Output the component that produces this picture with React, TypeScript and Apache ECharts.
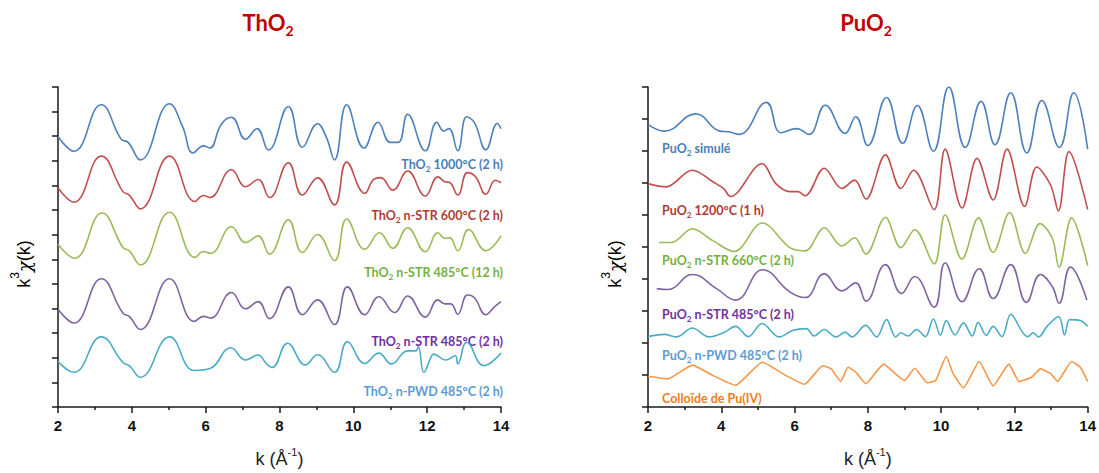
import React, { useEffect, useRef } from "react";
import * as echarts from "echarts";

// ---------- ThO2 panel ----------
const kTh1000 = [2.00, 2.43, 3.17, 3.71, 3.90, 4.23, 5.02, 5.37, 5.66, 5.94, 6.11, 6.42, 6.70, 7.08, 7.39, 7.70, 8.24, 8.62, 9.03, 9.27, 9.49, 9.82, 10.29, 10.67, 11.00, 11.22, 11.47, 11.95, 12.26, 12.45, 12.59, 12.83, 13.07, 13.28, 13.59, 13.90, 14.00];
const vTh1000 = [10.99, 10.39, 12.28, 10.88, 10.75, 10.04, 12.32, 11.41, 10.32, 10.61, 10.52, 11.48, 11.77, 10.88, 11.31, 10.44, 12.21, 10.55, 11.51, 10.95, 10.04, 12.28, 10.52, 11.57, 10.75, 10.75, 11.89, 10.41, 11.57, 11.21, 11.31, 10.41, 11.79, 11.55, 10.45, 11.52, 11.31];

const kTh600 = [2.00, 2.43, 3.17, 3.76, 3.93, 4.23, 5.02, 5.71, 5.94, 6.11, 6.70, 7.08, 7.42, 7.73, 8.24, 8.62, 9.03, 9.49, 9.82, 10.31, 10.55, 10.74, 11.07, 11.47, 11.95, 12.29, 12.48, 12.61, 12.83, 13.09, 13.31, 13.59, 13.85, 14.00];
const vTh600 = [8.91, 8.32, 10.19, 8.75, 8.61, 8.05, 10.19, 8.35, 8.59, 8.51, 9.64, 8.95, 9.24, 8.51, 9.92, 8.61, 9.31, 8.21, 9.95, 8.68, 9.25, 9.32, 8.81, 9.59, 8.57, 9.35, 9.15, 9.12, 8.61, 9.52, 9.35, 8.64, 9.21, 9.11];

const kTh485_12 = [2.00, 2.45, 3.19, 3.76, 3.93, 4.23, 5.02, 5.71, 5.94, 6.13, 6.70, 7.08, 7.42, 7.73, 8.24, 8.62, 9.03, 9.49, 9.82, 10.31, 10.71, 11.07, 11.47, 11.95, 12.29, 12.48, 12.61, 12.83, 13.12, 13.59, 14.00];
const vTh485_12 = [6.61, 6.04, 7.88, 6.48, 6.35, 5.77, 7.91, 6.08, 6.32, 6.24, 7.32, 6.68, 6.95, 6.21, 7.61, 6.28, 7.01, 5.95, 7.64, 6.41, 7.08, 6.45, 7.28, 6.31, 7.08, 6.85, 6.88, 6.35, 7.21, 6.35, 6.95];

const kTh485_2 = [2.00, 2.43, 3.17, 3.76, 3.93, 4.23, 5.02, 5.69, 5.94, 6.13, 6.70, 7.08, 7.42, 7.73, 8.24, 8.62, 9.03, 9.49, 9.84, 10.31, 10.69, 11.12, 11.47, 11.95, 12.29, 12.48, 12.64, 12.83, 13.09, 13.28, 13.59, 13.83, 14.00];
const vTh485_2 = [3.97, 3.41, 5.21, 3.81, 3.68, 3.15, 5.21, 3.48, 3.68, 3.61, 4.65, 3.99, 4.28, 3.59, 4.88, 3.75, 4.35, 3.35, 4.88, 3.75, 4.48, 3.84, 4.51, 3.65, 4.35, 4.19, 4.19, 3.77, 4.55, 4.44, 3.75, 4.08, 4.28];

const kThPwd = [2.00, 2.43, 3.17, 3.76, 3.93, 4.23, 5.02, 5.69, 6.13, 6.68, 7.08, 7.42, 7.65, 7.80, 8.22, 8.70, 9.03, 9.49, 9.84, 10.31, 10.69, 11.03, 11.47, 11.69, 11.76, 11.91, 12.12, 12.17, 12.50, 12.76, 12.83, 13.07, 13.54, 14.00];
const vThPwd = [1.85, 1.41, 2.85, 1.81, 1.68, 1.21, 2.85, 1.48, 1.57, 2.41, 1.91, 2.11, 1.75, 1.61, 2.59, 1.71, 2.12, 1.41, 2.65, 1.77, 2.19, 1.75, 2.28, 2.28, 2.45, 1.41, 2.08, 2.15, 1.91, 2.08, 1.75, 2.63, 1.68, 2.19];

// ---------- PuO2 panel ----------
const kPuSim = [2.00, 2.45, 3.30, 3.97, 4.20, 4.49, 5.23, 5.63, 6.06, 6.39, 6.84, 7.38, 7.67, 8.00, 8.51, 8.95, 9.35, 9.79, 10.21, 10.66, 11.09, 11.47, 11.90, 12.34, 12.75, 13.23, 13.62, 14.00];
const vPuSim = [8.83, 8.62, 9.16, 8.62, 8.60, 8.52, 9.52, 8.57, 8.70, 8.52, 9.43, 8.55, 9.07, 8.17, 9.67, 8.24, 9.42, 7.99, 10.0, 8.11, 9.55, 8.20, 9.82, 7.94, 9.58, 8.11, 9.82, 8.06];

const kPu1200 = [2.00, 2.49, 3.21, 3.78, 4.06, 4.25, 5.11, 5.49, 5.87, 6.10, 6.29, 6.81, 7.29, 7.64, 7.95, 8.48, 8.90, 9.25, 9.81, 10.11, 10.57, 10.98, 11.42, 11.80, 12.28, 12.61, 12.99, 13.20, 13.49, 14.00];
const vPu1200 = [6.98, 6.88, 7.40, 7.03, 6.83, 6.58, 7.60, 6.98, 6.73, 6.73, 6.60, 7.46, 6.83, 7.09, 6.50, 7.88, 6.83, 7.40, 6.17, 8.06, 6.22, 7.77, 6.47, 8.06, 6.27, 7.50, 6.93, 6.13, 7.98, 6.17];

const kPu660 = [2.30, 2.64, 3.21, 3.78, 4.35, 5.12, 5.87, 6.29, 6.81, 7.29, 7.64, 7.95, 8.48, 8.90, 9.28, 9.81, 10.11, 10.57, 11.02, 11.42, 11.87, 12.30, 12.70, 13.03, 13.22, 13.56, 14.00];
const vPu660 = [5.14, 5.14, 5.57, 5.19, 4.86, 5.75, 4.98, 4.88, 5.60, 5.03, 5.29, 4.78, 5.93, 4.98, 5.54, 4.47, 6.01, 4.62, 5.91, 4.83, 6.08, 4.80, 5.73, 5.29, 4.37, 5.91, 4.42];

const kPu485 = [2.24, 2.54, 3.21, 3.87, 4.39, 5.13, 5.87, 6.29, 6.81, 7.29, 7.67, 7.95, 8.48, 8.92, 9.28, 9.81, 10.11, 10.57, 11.04, 11.42, 11.90, 12.33, 12.71, 13.04, 13.22, 13.53, 13.98];
const vPu485 = [3.70, 3.67, 4.14, 3.70, 3.34, 4.29, 3.60, 3.42, 4.16, 3.63, 3.88, 3.31, 4.45, 3.55, 4.08, 3.12, 4.50, 3.29, 4.32, 3.39, 4.45, 3.27, 4.14, 3.75, 3.24, 4.37, 3.34];

const kPuPwd = [2.00, 2.45, 2.78, 3.21, 3.66, 4.06, 4.39, 4.74, 5.11, 5.58, 5.96, 6.32, 6.53, 6.81, 7.13, 7.38, 7.57, 7.94, 8.24, 8.51, 8.76, 8.90, 9.09, 9.33, 9.57, 9.79, 9.98, 10.14, 10.38, 10.61, 10.85, 11.01, 11.23, 11.42, 11.66, 11.90, 12.23, 12.37, 12.51, 12.66, 12.89, 13.21, 13.37, 13.51, 13.80, 14.00];
const vPuPwd = [2.20, 2.27, 2.19, 2.47, 2.19, 2.32, 2.52, 2.20, 2.61, 2.19, 2.40, 2.45, 2.22, 2.42, 2.19, 2.34, 2.19, 2.55, 2.19, 2.73, 2.19, 2.32, 2.22, 2.42, 2.20, 2.75, 2.24, 2.70, 2.25, 2.63, 2.22, 2.65, 2.24, 2.52, 2.20, 2.90, 2.32, 2.20, 2.32, 2.19, 2.52, 2.83, 2.25, 2.73, 2.70, 2.52];

const kColl = [2.00, 2.54, 3.21, 3.78, 4.39, 5.12, 5.77, 6.27, 6.77, 7.00, 7.26, 7.46, 7.67, 7.95, 8.43, 8.81, 9.00, 9.28, 9.62, 9.85, 10.14, 10.33, 10.61, 11.04, 11.42, 11.85, 12.13, 12.47, 12.71, 12.99, 13.18, 13.56, 13.80, 14.00];
const vColl = [0.96, 0.88, 1.31, 0.98, 0.68, 1.40, 0.98, 0.71, 1.29, 1.19, 0.80, 1.24, 1.09, 0.73, 1.34, 0.98, 0.83, 1.21, 0.76, 0.83, 1.58, 1.04, 0.60, 1.42, 0.66, 1.34, 0.80, 0.93, 1.19, 1.04, 0.80, 1.42, 1.24, 0.80];

const xTicksMin = 2;
const xTicksMax = 14;
const xTickStep = 2;

const pairs = (k: number[], v: number[]) => k.map((x, i) => [x, v[i]]);

const labelRich = (size: number) => ({
  n: { fontSize: size, fontWeight: "bold", fontFamily: "Lato", lineHeight: 18, verticalAlign: "middle" },
  s: { fontSize: size * 0.66, fontWeight: "bold", fontFamily: "Lato", lineHeight: 18, verticalAlign: "bottom" },
});

export default function App() {
  const ref = useRef<HTMLDivElement>(null);
  useEffect(() => {
    if (!ref.current) return;
    const chart = echarts.init(ref.current, null, { renderer: "svg" });

    const axisColor = "#1a1a1a";
    const mkX = (gi: number) => ({
      type: "value",
      gridIndex: gi,
      min: xTicksMin,
      max: xTicksMax,
      interval: xTickStep,
      axisLine: { show: true, lineStyle: { color: axisColor, width: 1.5 } },
      axisTick: { show: true, inside: false, length: 6, lineStyle: { color: axisColor, width: 1.5 } },
      minorTick: { show: true, splitNumber: 2, length: 3, lineStyle: { color: axisColor, width: 1.5 } },
      splitLine: { show: false },
      axisLabel: { color: "#111", fontWeight: "bold", fontSize: 15, fontFamily: "Liberation Sans", margin: 11 },
      name: "{a|k (Å}{s|-1}{a|)}",
      nameLocation: "middle",
      nameGap: 39,
      nameTextStyle: {
        rich: {
          a: { fontSize: 18, fontFamily: "Liberation Sans", color: "#222", lineHeight: 22, verticalAlign: "bottom" },
          s: { fontSize: 11, fontFamily: "Liberation Sans", color: "#222", lineHeight: 22, verticalAlign: "top" },
        },
      },
    });
    const mkY = (gi: number, max: number) => ({
      type: "value",
      gridIndex: gi,
      min: 0,
      max,
      interval: 1,
      axisLine: { show: true, onZero: false, lineStyle: { color: axisColor, width: 1.5 } },
      axisTick: { show: true, inside: false, length: 6, lineStyle: { color: axisColor, width: 1.5 } },
      splitLine: { show: false },
      axisLabel: { show: false },
    });

    const line = (name: string, gi: number, k: number[], v: number[], color: string, smooth = 0.45) => ({
      name,
      type: "line",
      xAxisIndex: gi,
      yAxisIndex: gi,
      data: pairs(k, v),
      smooth,
      symbol: "none",
      lineStyle: { color, width: 1.6 },
    });

    const lbl = (x: number, y: number, head: string, tail: string, color: string, align: string) => ({
      type: "text",
      x,
      y,
      style: {
        text: `{n|${head}}{s|2}{n|${tail}}`,
        rich: labelRich(12.5),
        fill: color,
        align,
        verticalAlign: "middle",
      },
    });
    const plainLbl = (x: number, y: number, text: string, color: string) => ({
      type: "text",
      x,
      y,
      style: {
        text,
        font: "bold 12.5px Lato",
        fill: color,
        align: "left",
        verticalAlign: "middle",
      },
    });
    const title = (x: number, y: number, head: string) => ({
      type: "text",
      x,
      y,
      style: {
        text: `{n|${head}}{s|2}`,
        rich: {
          n: { fontSize: 22, fontWeight: "bold", fontFamily: "Lato", lineHeight: 30, verticalAlign: "middle", color: "#c00000" },
          s: { fontSize: 14, fontWeight: "bold", fontFamily: "Lato", lineHeight: 30, verticalAlign: "bottom", color: "#c00000" },
        },
        fill: "#c00000",
        align: "center",
        verticalAlign: "middle",
      },
    });
    const yName = (x: number, y: number) => ({
      type: "text",
      x,
      y,
      rotation: Math.PI / 2,
      style: {
        text: "{a|k}{s|3}{c|χ}{a|(k)}",
        rich: {
          a: { fontSize: 18, fontFamily: "Liberation Sans", color: "#222", lineHeight: 24, verticalAlign: "bottom" },
          s: { fontSize: 12, fontFamily: "Liberation Sans", color: "#222", lineHeight: 24, verticalAlign: "top" },
          c: { fontSize: 18, fontFamily: "DejaVu Serif", fontStyle: "italic", color: "#222", lineHeight: 24, verticalAlign: "bottom" },
        },
        align: "center",
        verticalAlign: "middle",
      },
    });

    chart.setOption({
      animation: false,
      backgroundColor: "#ffffff",
      grid: [
        { left: 58, top: 87, width: 443, height: 325 },
        { left: 648, top: 87, width: 443, height: 325 },
      ],
      xAxis: [mkX(0), mkX(1)],
      yAxis: [mkY(0, 13), mkY(1, 10)],
      series: [
        line("ThO2 1000°C (2 h)", 0, kTh1000, vTh1000, "#4f81bd"),
        line("ThO2 n-STR 600°C (2 h)", 0, kTh600, vTh600, "#c0504d"),
        line("ThO2 n-STR 485°C (12 h)", 0, kTh485_12, vTh485_12, "#9bbb59"),
        line("ThO2 n-STR 485°C (2 h)", 0, kTh485_2, vTh485_2, "#8064a2"),
        line("ThO2 n-PWD 485°C (2 h)", 0, kThPwd, vThPwd, "#4bacc6"),
        line("PuO2 simulé", 1, kPuSim, vPuSim, "#4f81bd"),
        line("PuO2 1200°C (1 h)", 1, kPu1200, vPu1200, "#c0504d", 0.35),
        line("PuO2 n-STR 660°C (2 h)", 1, kPu660, vPu660, "#9bbb59", 0.35),
        line("PuO2 n-STR 485°C (2 h)", 1, kPu485, vPu485, "#8064a2"),
        line("PuO2 n-PWD 485°C (2 h)", 1, kPuPwd, vPuPwd, "#4bacc6", 0.35),
        line("Colloïde de Pu(IV)", 1, kColl, vColl, "#f79646", 0.15),
      ],
      graphic: [
        title(268, 22, "ThO"),
        title(866, 22, "PuO"),
        yName(21, 264),
        yName(612, 264),
        lbl(503, 164, "ThO", " 1000°C (2 h)", "#4a7ebb", "right"),
        lbl(503, 215, "ThO", " n-STR 600°C (2 h)", "#b33b32", "right"),
        lbl(503, 272, "ThO", " n-STR 485°C (12 h)", "#77b041", "right"),
        lbl(503, 341, "ThO", " n-STR 485°C (2 h)", "#7030a0", "right"),
        lbl(503, 391, "ThO", " n-PWD 485°C (2 h)", "#5b9bd5", "right"),
        lbl(662, 148, "PuO", " simulé", "#4a7ebb", "left"),
        lbl(662, 210, "PuO", " 1200°C (1 h)", "#b33b32", "left"),
        lbl(662, 260, "PuO", " n-STR 660°C (2 h)", "#77b041", "left"),
        lbl(662, 314, "PuO", " n-STR 485°C (2 h)", "#7030a0", "left"),
        lbl(662, 355, "PuO", " n-PWD 485°C (2 h)", "#5b9bd5", "left"),
        plainLbl(662, 398, "Colloïde de Pu(IV)", "#f47c20"),
      ],
    });
    return () => chart.dispose();
  }, []);
  return (
    <div
      ref={ref}
      style={{ position: "absolute", left: 0, top: 0, width: 1099, height: 473, background: "#fff" }}
    />
  );
}
